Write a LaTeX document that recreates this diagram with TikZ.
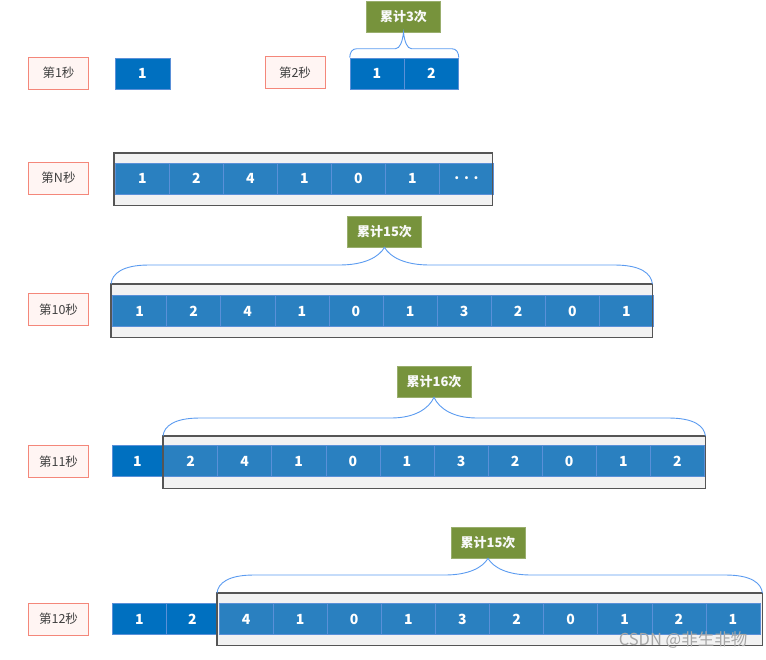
\documentclass[tikz,border=0pt]{standalone}
\usepackage{fontspec}
\setmainfont{Noto Sans CJK SC}
\usetikzlibrary{calc}
\definecolor{dkblue}{HTML}{0070C0}
\definecolor{ltblue}{HTML}{2A80C0}
\definecolor{cellline}{HTML}{5A90D8}
\definecolor{lblfill}{HTML}{FFF5F3}
\definecolor{lbldraw}{HTML}{F4877A}
\definecolor{lbltext}{HTML}{404040}
\definecolor{tagfill}{HTML}{77933C}
\definecolor{brccol}{HTML}{5B9BF0}
\definecolor{grpfill}{HTML}{F2F2F2}
\definecolor{grpdraw}{HTML}{555555}
\definecolor{wmark}{HTML}{A6A6A6}
\tikzset{
  lbl/.style={draw=lbldraw, fill=lblfill, line width=0.9pt, minimum width=60pt, minimum height=32pt, inner sep=0pt, text=lbltext, font=\fontsize{12.5}{13}\selectfont},
  cellbase/.style={draw=cellline, line width=0.6pt, minimum height=31pt, inner sep=0pt, text=white, font=\fontsize{14}{15}\selectfont\bfseries},
  darkcell/.style={cellbase, fill=dkblue, minimum width=54pt},
  lightcell/.style={cellbase, fill=ltblue, minimum width=54.1pt},
  grp/.style={fill=grpfill, inner sep=0pt, anchor=north west},
  grpframe/.style={draw=grpdraw, line width=1.1pt},
  tag/.style={fill=tagfill, draw=tagfill!75!white, line width=0.6pt, minimum width=74pt, minimum height=31pt, inner sep=0pt, text=white!95!gray, font=\fontsize{13}{14}\selectfont\bfseries},
  bracepath/.style={draw=brccol, line width=0.9pt},
}
% #1 left end, #2 right end, #3 tag node, #4 rise, #5 end radius, #6 middle width
\newcommand\drawcurly[6]{%
  \draw[bracepath] let \p1=(#1), \p2=(#2), \p3=(#3.south) in
    (\p1) .. controls (\x1+0.03*#5pt, \y1+0.55*#4pt) and (\x1+0.3*#5pt, \y1+#4pt) .. (\x1+#5pt, \y1+#4pt)
    -- (\x3-#6pt, \y1+#4pt) .. controls (\x3-0.45*#6pt, \y1+#4pt) and (\x3-0.12*#6pt, {\y1+#4pt+0.45*(\y3-\y1-#4pt)}) .. (\p3)
    .. controls (\x3+0.12*#6pt, {\y1+#4pt+0.45*(\y3-\y1-#4pt)}) and (\x3+0.45*#6pt, \y1+#4pt) .. (\x3+#6pt, \y1+#4pt)
    -- (\x2-#5pt, \y1+#4pt) .. controls (\x2-0.3*#5pt, \y1+#4pt) and (\x2-0.03*#5pt, \y2+0.55*#4pt) .. (\p2);
}
\begin{document}
\begin{tikzpicture}[x=1pt, y=-1pt]
\useasboundingbox (0,0) rectangle (766,659);

% ---- row 1 / row 2
\node[lbl] (l1) at (58.5,73) {第1秒};
\node[darkcell, minimum width=55pt] (r1c0) at (142.5,73.5) {1};
\node[lbl] (l2) at (295,72.5) {第2秒};
\node[darkcell] (r2c0) at (377,73.5) {1};
\node[darkcell] (r2c1) at (431.5,73.5) {2};
\node[tag] (t2) at (403.5,16.5) {累计3次};
\drawcurly{r2c0.north west}{r2c1.north east}{t2}{9}{7}{8}

% ---- row N
\node[lbl] (lN) at (58.5,178) {第N秒};
\node[grp, minimum width=378pt, minimum height=52pt] (gN) at (114,153) {};
\foreach \v [count=\i from 0] in {1,2,4,1,0,1,{.\,\,.\,\,.}}
  \node[lightcell, minimum width=54pt] (rNc\i) at ({115.5+27+\i*54},178.5) {\v};
\draw[grpframe] (gN.north west) rectangle (gN.south east);

% ---- row 10
\node[lbl] (l10) at (58.5,309.5) {第10秒};
\node[grp, minimum width=541pt, minimum height=53pt] (g10) at (111,284) {};
\foreach \v [count=\i from 0] in {1,2,4,1,0,1,3,2,0,1}
  \node[lightcell] (r10c\i) at ({112.5+27.05+\i*54.1},311) {\v};
\draw[grpframe] (g10.north west) rectangle (g10.south east);
\node[tag] (t10) at (384.5,231.5) {累计15次};
\drawcurly{g10.north west}{g10.north east}{t10}{19}{38}{45}

% ---- row 11
\node[lbl] (l11) at (58.5,461.5) {第11秒};
\node[darkcell, minimum width=51pt] (r11x) at (137.5,461) {1};
\node[grp, minimum width=542pt, minimum height=52pt] (g11) at (163,436) {};
\foreach \v [count=\i from 0] in {2,4,1,0,1,3,2,0,1,2}
  \node[lightcell] (r11c\i) at ({163.5+27.05+\i*54.1},461) {\v};
\draw[grpframe] (g11.north west) rectangle (g11.south east);
\node[tag] (t11) at (434,381.5) {累计16次};
\drawcurly{g11.north west}{g11.north east}{t11}{18}{37}{43}

% ---- row 12
\node[lbl] (l12) at (58.5,619) {第12秒};
\node[darkcell, minimum width=54pt] (r12x) at (139.5,619) {1};
\node[darkcell, minimum width=52pt] (r12y) at (192.5,619) {2};
\node[grp, minimum width=545pt, minimum height=52pt] (g12) at (217,593) {};
\foreach \v [count=\i from 0] in {4,1,0,1,3,2,0,1,2,1}
  \node[lightcell] (r12c\i) at ({219+27.05+\i*54.1},619) {\v};
\draw[grpframe] (g12.north west) rectangle (g12.south east);
\node[tag] (t12) at (488,542.5) {累计15次};
\drawcurly{g12.north west}{g12.north east}{t12}{18}{37}{43}

% watermark
\node[text=wmark, font=\fontsize{16.5}{17}\selectfont, inner sep=0pt] (wm) at (683,640) {CSDN @非生非物};
\end{tikzpicture}
\end{document}
